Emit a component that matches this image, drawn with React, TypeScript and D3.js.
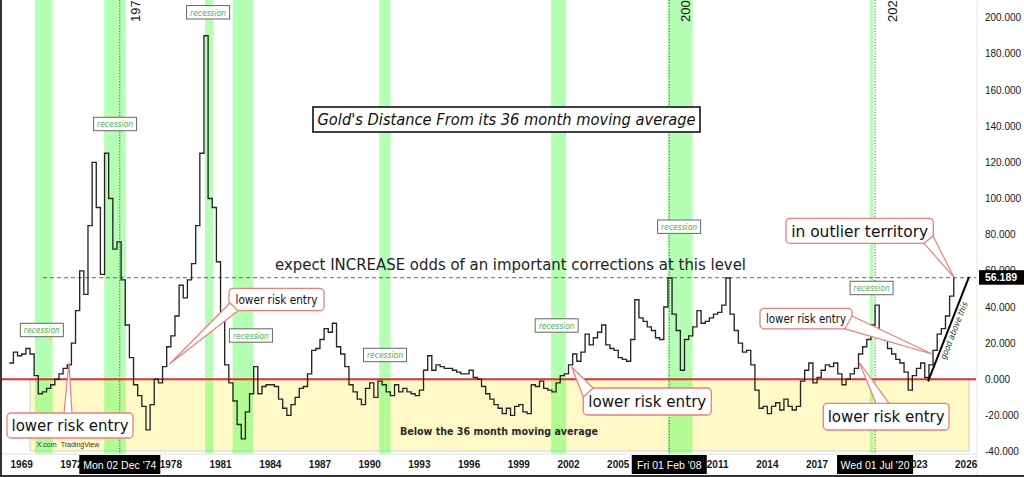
import React from 'react';
import * as d3 from 'd3';

// ---------------- DATA ----------------
// Gold's % distance from its 36-month moving average, quarterly readings
const seriesStart = 1968.25;
const q1960s = [9, 15, 13, 14, 17, 14, 2];
const q1970s = [
  -8, -7, -5, -3,
  0, 3, 6, 8,
  20, 38, 60, 47,
  85, 120, 95, 58,
  125, 100, 72, 76,
  55, 30, 12, -3,
  -9, -15, -28, -14,
  0, -2, 7, 18,
  24, 35, 52, 45,
  55, 64, 85, 125,
];
const q1980s = [
  190, 100, 95, 65,
  35, 8, -2, -12,
  -25, -33, -18, -8,
  7, -8, -4, -3,
  -3, -4, -11, -16,
  -20, -14, -10, -5,
  -4, 3, 16, 17,
  22, 28, 26, 31,
  18, 14, 7, -3,
  -7, -11, -14, -5,
];
const q1990s = [
  -2, -10, -1, -3,
  -7, -9, -3, -7,
  -5, -7, -8, -9,
  -6, 5, 13, 5,
  8, 7, 6, 6,
  5, 4, 3, 3,
  5, 1, 0, -4,
  -8, -11, -14, -16,
  -19, -16, -20, -15,
  -14, -18, -19, -3,
];
const q2000s = [
  -4, -1, -5, -6,
  -7, -2, 2, 3,
  8, 14, 10, 15,
  25, 19, 23, 26,
  30, 19, 17, 16,
  12, 11, 10, 22,
  44, 34, 32, 29,
  27, 23, 22, 40,
  56, 36, 27, 5,
  22, 24, 29, 38,
];
const q2010s = [
  31, 32, 34, 36,
  37, 41, 56, 36,
  27, 20, 15, 16,
  8, -6, -16, -15,
  -19, -15, -13, -17,
  -11, -15, -17, -15,
  -1, 5, 9, -2,
  1, 5, 8, 7,
  9, 3, -3, 0,
  3, 6, 14, 18,
];
const q2020s = [
  22, 30, 41, 25,
  22, 17, 14, 11,
  9, 4, -6, 2,
  6, 9, 1, 8,
  16, 25, 28, 35,
  46, 56.189,
];
const seriesEnd = 2025.32;
const lastValue = 56.189;

const yTickValues = [-40, -20, 0, 20, 40, 60, 80, 100, 120, 140, 160, 180, 200];
// year labels visible on the time axis (1975, 2008 and 2020 sit under the date boxes)
const xTickYears = [1969, 1972, 1978, 1981, 1984, 1987, 1990, 1993, 1996, 1999, 2002, 2005, 2011, 2014, 2017, 2023, 2026];

const recessionStarts = [1969.8, 1973.98, 1980.06, 1981.73, 1990.58, 2000.95, 2007.98, 2020.19];
const recessionEnds = [1970.87, 1975.29, 1980.56, 1982.97, 1991.27, 2001.86, 2009.49, 2020.39];

const markerDates = [1974.92, 2008.08, 2020.5];
const markerYearText = ['1974', '2008', '2020'];
const markerDateText = ["Mon 02 Dec '74", "Fri 01 Feb '08", "Wed 01 Jul '20"];

const trendStart = [2023.7, -1.2];
const trendEnd = [2026.17, 56.6];

// ---------------- CHART ----------------
const W = 1024;
const H = 477;
const SANS = '"DejaVu Sans", Verdana, sans-serif';
const AXIS = '"Liberation Sans", Arial, sans-serif';
const CALLOUT = '#ee7d7d';

export default function App() {
  const x = d3.scaleLinear().domain([1969, 2026]).range([21.7, 966.2]);
  const y = d3.scaleLinear().domain([-40, 200]).range([451.6, 17.7]);
  const plotRight = 976;
  const plotBottom = 454;

  const values = [...q1960s, ...q1970s, ...q1980s, ...q1990s, ...q2000s, ...q2010s, ...q2020s];
  const pts: [number, number][] = values.map((v, i) => [seriesStart + i * 0.25, v]);
  pts.push([seriesEnd, values[values.length - 1]]);
  const linePath = d3
    .line<[number, number]>()
    .x((d) => x(d[0]))
    .y((d) => y(d[1]))
    .curve(d3.curveStepAfter)(pts) as string;

  const recLabelY = [330, 124, 12.3, 335.5, 355, 325.5, 226.7, 288];
  const recLabelDx = [-2, 0, -1, 8, 0, -2, -1, 0];
  const markerBoxW = [81, 75, 76];
  const markerTextDx = [20, 21, 22];

  const callouts = [
    { x: 7, y: 413, w: 126, h: 25, size: 16, len: 117, text: 'lower risk entry', ptr: [[64, 413], [72, 413], [69, 363]] },
    { x: 229, y: 288.3, w: 95, h: 22.4, size: 12.5, len: 82, text: 'lower risk entry', ptr: [[230, 303], [238, 310.7], [169.5, 364]] },
    { x: 583.3, y: 388, w: 128, h: 27, size: 16, len: 118, text: 'lower risk entry', ptr: [[583.3, 397], [593, 388], [571.7, 367]] },
    { x: 760, y: 308.3, w: 92, h: 20.5, size: 12.5, len: 80, text: 'lower risk entry', ptr: [[852, 316], [845, 328.8], [932, 354]] },
    { x: 823.3, y: 403.3, w: 125.7, h: 26.7, size: 16, len: 117, text: 'lower risk entry', ptr: [[876, 403.3], [889, 403.3], [859, 362]] },
    { x: 786, y: 218.3, w: 147.3, h: 25, size: 16, len: 137, text: 'in outlier territory', ptr: [[924, 243.3], [933, 236], [954, 277.3]] },
  ];

  const trendAngle =
    (Math.atan2(y(trendEnd[1]) - y(trendStart[1]), x(trendEnd[0]) - x(trendStart[0])) * 180) / Math.PI;

  return (
    <svg
      width={W}
      height={H}
      viewBox={`0 0 ${W} ${H}`}
      style={{ position: 'absolute', left: 0, top: 0, background: '#fff' }}
    >
      <rect x={0} y={0} width={W} height={H} fill="#fff" />
      {/* below-average zone */}
      <rect x={30} y={y(0)} width={969 - 30} height={y(-40) - y(0) - 0.6} fill="#fff9c8" stroke="#cfcfcf" strokeWidth={1} />

      {/* recession bands */}
      {recessionStarts.map((s, i) => (
        <rect key={'rb' + i} x={x(s)} y={0} width={x(recessionEnds[i]) - x(s)} height={plotBottom} fill="rgba(70,255,70,0.4)" />
      ))}

      {/* plot frame lines */}
      <line x1={0} x2={plotRight} y1={plotBottom} y2={plotBottom} stroke="#e0e0e0" strokeWidth={1} />
      <line x1={plotRight + 1} x2={plotRight + 1} y1={0} y2={H} stroke="#e6e6e6" strokeWidth={1} />

      {/* marker dotted lines */}
      {markerDates.map((d, i) => (
        <line key={'md' + i} x1={x(d)} x2={x(d)} y1={0} y2={plotBottom} stroke="#555" strokeWidth={1} strokeDasharray="1.2 1.6" />
      ))}

      {/* dashed level line */}
      <line x1={43} x2={plotRight} y1={y(lastValue)} y2={y(lastValue)} stroke="#666" strokeWidth={1} strokeDasharray="4 3" />

      {/* zero line */}
      <line x1={0} x2={plotRight} y1={y(0)} y2={y(0)} stroke="#e53030" strokeWidth={2} />

      {/* series */}
      <path d={linePath} fill="none" stroke="#262626" strokeWidth={1.35} strokeLinejoin="miter" />

      {/* trend line */}
      <line x1={x(trendStart[0])} y1={y(trendStart[1])} x2={x(trendEnd[0])} y2={y(trendEnd[1])} stroke="#000" strokeWidth={2} />
      <text
        transform={`translate(956.7,331.7) rotate(${trendAngle})`}
        textAnchor="middle"
        fontFamily={SANS}
        fontStyle="italic"
        fontSize={8.5}
        fill="#333"
        textLength={61}
        lengthAdjust="spacingAndGlyphs"
      >
        good above this
      </text>

      {/* rotated marker year labels at top */}
      {markerDates.map((d, i) => (
        <text
          key={'my' + i}
          transform={`translate(${x(d) + markerTextDx[i]},22) rotate(-90)`}
          fontFamily={AXIS}
          fontSize={13}
          fill="#111"
        >
          {markerYearText[i]}
        </text>
      ))}

      {/* recession labels */}
      {recessionStarts.map((s, i) => {
        const cx = (x(s) + x(recessionEnds[i])) / 2 + recLabelDx[i];
        const cy = recLabelY[i];
        return (
          <g key={'rl' + i}>
            <rect x={cx - 21.5} y={cy - 6.7} width={43} height={13.4} fill="#fff" stroke="#666" strokeWidth={1} />
            <text
              x={cx}
              y={cy + 3.3}
              textAnchor="middle"
              fontFamily={SANS}
              fontStyle="italic"
              fontSize={9.5}
              fill="#4caf50"
              textLength={36}
              lengthAdjust="spacingAndGlyphs"
            >
              recession
            </text>
          </g>
        );
      })}

      {/* title */}
      <rect x={313} y={107} width={387} height={25} fill="#fff" stroke="#111" strokeWidth={1.6} />
      <text
        x={506.5}
        y={124.8}
        textAnchor="middle"
        fontFamily={SANS}
        fontStyle="italic"
        fontSize={15}
        fill="#111"
        textLength={378}
        lengthAdjust="spacingAndGlyphs"
      >
        Gold's Distance From its 36 month moving average
      </text>

      {/* level note */}
      <text x={275} y={270} fontFamily={SANS} fontSize={16.5} fill="#222" textLength={471} lengthAdjust="spacingAndGlyphs">
        expect INCREASE odds of an important corrections at this level
      </text>

      {/* zone note */}
      <text
        x={499}
        y={435}
        textAnchor="middle"
        fontFamily={SANS}
        fontWeight="bold"
        fontSize={10}
        fill="#2a2a2a"
        textLength={198}
        lengthAdjust="spacingAndGlyphs"
      >
        Below the 36 month moving average
      </text>
      <text x={36.7} y={446.7} fontFamily={AXIS} fontSize={7} fill="#333">
        X.com
      </text>
      <text x={60.7} y={446.7} fontFamily={AXIS} fontSize={7} fill="#333">
        TradingView
      </text>

      {/* callouts */}
      {callouts.map((c, i) => (
        <g key={'co' + i}>
          <rect x={c.x} y={c.y} width={c.w} height={c.h} rx={4} fill="#fff" stroke={CALLOUT} strokeWidth={1.3} />
          <polygon points={c.ptr.map((p) => p.join(',')).join(' ')} fill="#fff" stroke={CALLOUT} strokeWidth={1.2} strokeLinejoin="round" />
          <text
            x={c.x + c.w / 2}
            y={c.y + c.h / 2 + c.size * 0.36}
            textAnchor="middle"
            fontFamily={SANS}
            fontSize={c.size}
            fill="#111"
            textLength={c.len}
            lengthAdjust="spacingAndGlyphs"
          >
            {c.text}
          </text>
        </g>
      ))}

      {/* right axis labels */}
      {yTickValues.map((v) => (
        <text key={'yt' + v} x={985} y={y(v) + 3.6} fontFamily={AXIS} fontSize={10} fill="#131722">
          {v.toFixed(3)}
        </text>
      ))}
      <rect x={979} y={y(lastValue) - 7.5} width={45} height={14.5} fill="#000" />
      <text x={985} y={y(lastValue) + 3.8} fontFamily={AXIS} fontSize={10.5} fontWeight="bold" fill="#fff">
        {lastValue.toFixed(3)}
      </text>

      {/* bottom axis labels */}
      {xTickYears.map((yr) => (
        <text key={'xt' + yr} x={x(yr)} y={468} textAnchor="middle" fontFamily={AXIS} fontSize={10} fontWeight="bold" fill="#131722">
          {yr}
        </text>
      ))}
      {markerDates.map((d, i) => (
        <g key={'mb' + i}>
          <rect x={x(d) - markerBoxW[i] / 2} y={455} width={markerBoxW[i]} height={19} fill="#000" />
          <text x={x(d)} y={468.5} textAnchor="middle" fontFamily={AXIS} fontSize={10.5} fill="#fff">
            {markerDateText[i]}
          </text>
        </g>
      ))}

      {/* frame */}
      <line x1={1} x2={1} y1={0} y2={H} stroke="#333" strokeWidth={2} />
      <line x1={0} x2={W} y1={476} y2={476} stroke="#333" strokeWidth={2} />
    </svg>
  );
}
